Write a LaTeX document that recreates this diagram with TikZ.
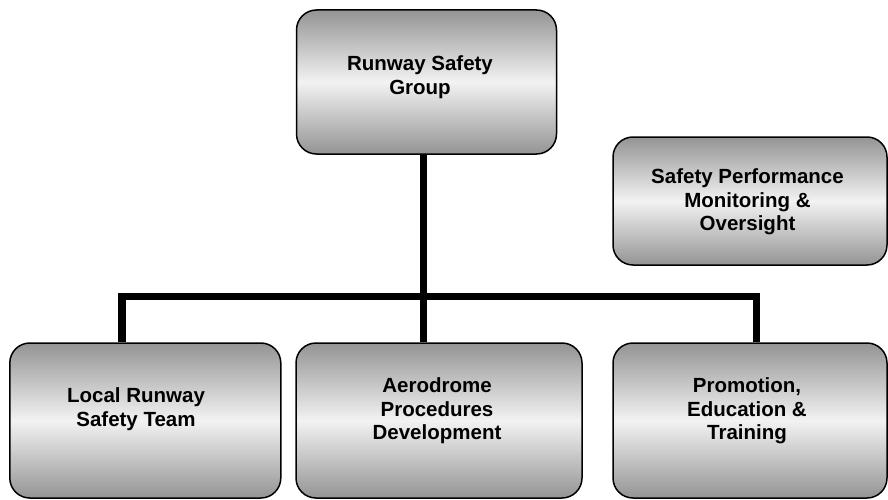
\documentclass[tikz,border=0pt]{standalone}
\usepackage{fontspec}
\setmainfont{Liberation Sans}
\begin{document}
\begin{tikzpicture}[x=1pt,y=-1pt,
  box/.style={draw=black, line width=1.5pt, rounded corners=20pt, inner sep=0pt,
    top color=black!42, bottom color=black!42, middle color=black!5},
  lbl/.style={font=\bfseries\fontsize{20.5}{23.5}\selectfont, align=center, inner sep=0pt, text=black},
  conn/.style={draw=black, line width=7.5pt, line join=miter, line cap=butt}]
\path[use as bounding box, fill=white] (0,0) rectangle (888,500);
% boxes
\node[box, minimum width=260pt, minimum height=144pt] (rsg) at (426.5,82) {};
\node[box, minimum width=274pt, minimum height=128pt] (spm) at (750,201) {};
\node[box, minimum width=271pt, minimum height=155pt] (lrst) at (145.3,420.5) {};
\node[box, minimum width=286pt, minimum height=155pt] (apd) at (439,420.5) {};
\node[box, minimum width=274pt, minimum height=155pt] (pet) at (750,420.5) {};
% labels
\node[lbl] (rsgt) at (420,77) {Runway Safety\\Group};
\node[lbl] (spmt) at (747.5,202) {Safety Performance\\Monitoring \&\\Oversight};
\node[lbl] (lrstt) at (136,409) {Local Runway\\Safety Team};
\node[lbl] (apdt) at (437,411) {Aerodrome\\Procedures\\Development};
\node[lbl] (pett) at (747,411) {Promotion,\\Education \&\\Training};
% connectors
\coordinate (j) at (423.5,296.3);
\coordinate (hl) at (122,296.3);
\coordinate (hr) at (756.7,296.3);
\draw[conn] (rsg.south -| j) -- (j);
\draw[conn] (j) -- (apd.north -| j);
\draw[conn] (lrst.north -| hl) -- (hl) -- (hr) -- (pet.north -| hr);
\end{tikzpicture}
\end{document}
